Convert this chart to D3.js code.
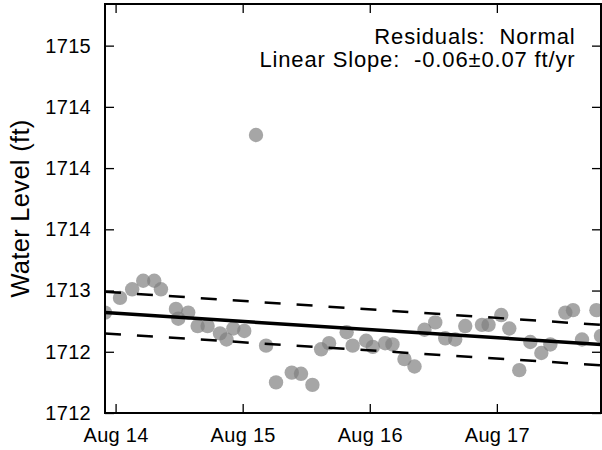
<!DOCTYPE html>
<html>
<head>
<meta charset="utf-8">
<script src="https://cdn.jsdelivr.net/npm/d3@7"></script>
<style>
  body { margin: 0; background: #fff; }
  text { font-family: "Liberation Sans", Arial, sans-serif; fill: #000; }
</style>
</head>
<body>
<svg id="chart" width="602" height="450"></svg>
<script>
// observations
var times = [
  "2015-08-13 22:00", "2015-08-14 00:50", "2015-08-14 03:08", "2015-08-14 05:13",
  "2015-08-14 07:18", "2015-08-14 08:34", "2015-08-14 11:24", "2015-08-14 11:50",
  "2015-08-14 13:43", "2015-08-14 15:30", "2015-08-14 17:23", "2015-08-14 19:43",
  "2015-08-14 20:57", "2015-08-14 22:14", "2015-08-15 00:18", "2015-08-15 02:31",
  "2015-08-15 04:25", "2015-08-15 06:18", "2015-08-15 09:16", "2015-08-15 11:01",
  "2015-08-15 13:10", "2015-08-15 14:49", "2015-08-15 16:19", "2015-08-15 19:38",
  "2015-08-15 20:46", "2015-08-15 23:19", "2015-08-16 00:35", "2015-08-16 02:54",
  "2015-08-16 04:17", "2015-08-16 06:33", "2015-08-16 08:27", "2015-08-16 10:20",
  "2015-08-16 12:22", "2015-08-16 14:15", "2015-08-16 16:08", "2015-08-16 18:02",
  "2015-08-16 21:11", "2015-08-16 22:26", "2015-08-17 00:50", "2015-08-17 02:21",
  "2015-08-17 04:14", "2015-08-17 06:19", "2015-08-17 08:24", "2015-08-17 10:06",
  "2015-08-17 12:56", "2015-08-17 14:23", "2015-08-17 16:05", "2015-08-17 18:48",
  "2015-08-17 19:40"
];
var levels = [
  1712.82, 1712.94, 1713.01, 1713.08,
  1713.08, 1713.01, 1712.85, 1712.77,
  1712.82, 1712.71, 1712.71, 1712.65,
  1712.60, 1712.69, 1712.67, 1714.27,
  1712.55, 1712.25, 1712.33, 1712.32,
  1712.23, 1712.52, 1712.57, 1712.66,
  1712.55, 1712.59, 1712.54, 1712.57,
  1712.56, 1712.44, 1712.38, 1712.68,
  1712.74, 1712.61, 1712.60, 1712.71,
  1712.72, 1712.72, 1712.80, 1712.69,
  1712.35, 1712.58, 1712.49, 1712.56,
  1712.82, 1712.84, 1712.60, 1712.84,
  1712.63
];

// fitted trend and its band (start / end of record)
var trendVals = [1712.82, 1712.56];
var upperVals = [1712.99, 1712.72];
var lowerVals = [1712.65, 1712.39];

var yTickValues = [1712, 1712.5, 1713, 1713.5, 1714, 1714.5, 1715];
var yTickLabels = ["1712", "1712", "1713", "1714", "1714", "1714", "1715"];
var xTickDates = ["2015-08-14", "2015-08-15", "2015-08-16", "2015-08-17"];
var xTickLabels = ["Aug 14", "Aug 15", "Aug 16", "Aug 17"];

var parseTime = d3.utcParse("%Y-%m-%d %H:%M"),
    parseDay = d3.utcParse("%Y-%m-%d");

var pts = times.map(function(t, i) { return {t: parseTime(t), v: levels[i]}; });
var tExtent = d3.extent(pts, function(d) { return d.t; });

var svg = d3.select("#chart"),
    pLeft = 105, pRight = 601, pTop = 4, pBottom = 413;

var x = d3.scaleUtc().domain(tExtent).range([pLeft, pRight]);
var y = d3.scaleLinear().domain([1712, 1715.34]).range([pBottom, pTop]);

svg.append("clipPath").attr("id", "plotclip")
  .append("rect")
  .attr("x", pLeft).attr("y", pTop)
  .attr("width", pRight - pLeft).attr("height", pBottom - pTop);

var plot = svg.append("g").attr("clip-path", "url(#plotclip)");

plot.selectAll("circle")
  .data(pts)
  .enter().append("circle")
  .attr("cx", function(d) { return x(d.t); })
  .attr("cy", function(d) { return y(d.v); })
  .attr("r", 7.2)
  .attr("fill", "gray")
  .attr("fill-opacity", 0.7);

var line = d3.line()
  .x(function(d) { return x(d.t); })
  .y(function(d) { return y(d.v); });

function seg(vals) {
  return [{t: tExtent[0], v: vals[0]}, {t: tExtent[1], v: vals[1]}];
}

plot.append("path").attr("d", line(seg(upperVals)))
  .attr("fill", "none").attr("stroke", "#000")
  .attr("stroke-width", 2.5).attr("stroke-dasharray", "16,16");
plot.append("path").attr("d", line(seg(lowerVals)))
  .attr("fill", "none").attr("stroke", "#000")
  .attr("stroke-width", 2.5).attr("stroke-dasharray", "16,16");
plot.append("path").attr("d", line(seg(trendVals)))
  .attr("fill", "none").attr("stroke", "#000")
  .attr("stroke-width", 3.5);

// axes, ticks pointing in
var xTicks = xTickDates.map(function(s) { return parseDay(s); });

var xAxis = svg.append("g")
  .attr("transform", "translate(0," + pBottom + ")")
  .call(d3.axisBottom(x).tickValues(xTicks)
    .tickFormat(function(d, i) { return xTickLabels[i]; })
    .tickSizeInner(-9).tickSizeOuter(0).tickPadding(14.5));

var yAxis = svg.append("g")
  .attr("transform", "translate(" + pLeft + ",0)")
  .call(d3.axisLeft(y).tickValues(yTickValues)
    .tickFormat(function(d, i) { return yTickLabels[i]; })
    .tickSizeInner(-9).tickSizeOuter(0).tickPadding(14));

var topAxis = svg.append("g")
  .attr("transform", "translate(0," + pTop + ")")
  .call(d3.axisTop(x).tickValues(xTicks).tickFormat("")
    .tickSizeInner(-9).tickSizeOuter(0));

var rightAxis = svg.append("g")
  .attr("transform", "translate(" + pRight + ",0)")
  .call(d3.axisRight(y).tickValues(yTickValues).tickFormat("")
    .tickSizeInner(-9).tickSizeOuter(0));

[xAxis, yAxis, topAxis, rightAxis].forEach(function(a) {
  a.select(".domain").remove();
  a.selectAll(".tick line").attr("stroke", "#000").attr("stroke-width", 1.3);
  a.selectAll("text")
    .style("font-family", "'Liberation Sans', Arial, sans-serif")
    .style("font-size", "20px")
    .style("letter-spacing", "0.3px")
    .attr("fill", "#000");
});

svg.append("rect")
  .attr("x", pLeft).attr("y", pTop)
  .attr("width", pRight - pLeft).attr("height", pBottom - pTop)
  .attr("fill", "none").attr("stroke", "#000").attr("stroke-width", 2);

svg.append("text")
  .attr("transform", "translate(29," + (pTop + pBottom) / 2 + ") rotate(-90)")
  .attr("text-anchor", "middle")
  .style("font-size", "25.5px")
  .style("letter-spacing", "0.3px")
  .text("Water Level (ft)");

var notes = ["Residuals:  Normal", "Linear Slope:  -0.06\u00b10.07 ft/yr"];
svg.selectAll(".note")
  .data(notes)
  .enter().append("text")
  .attr("class", "note")
  .attr("x", 575.5)
  .attr("y", function(d, i) { return 44 + i * 22.5; })
  .attr("text-anchor", "end")
  .style("font-size", "22px")
  .style("letter-spacing", "0.85px")
  .style("white-space", "pre")
  .text(function(d) { return d; });
</script>
</body>
</html>
